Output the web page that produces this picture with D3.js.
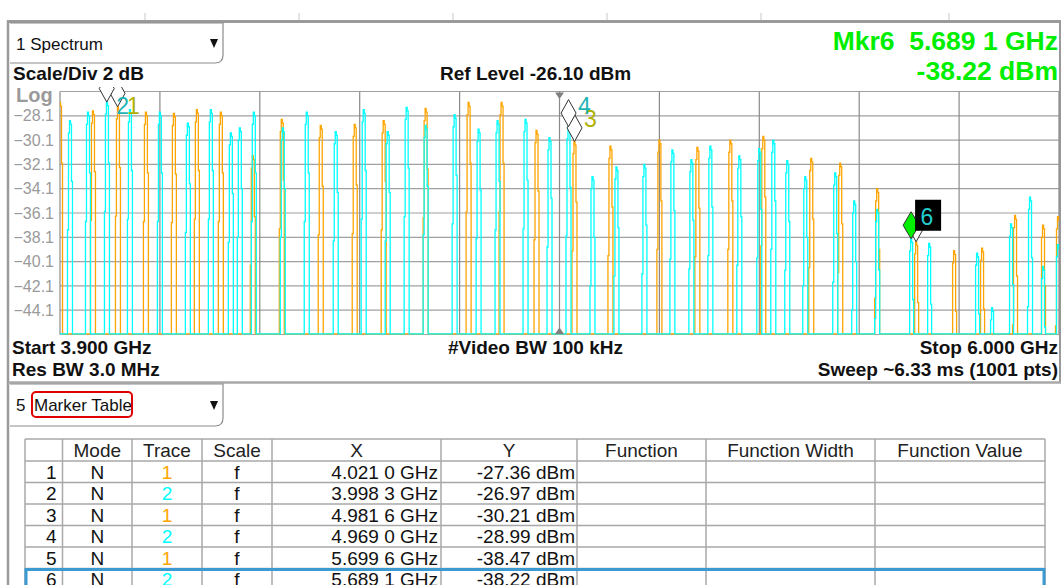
<!DOCTYPE html>
<html lang="en">
<head>
<meta charset="UTF-8">
<title>Spectrum + Marker Table</title>
<script src="https://d3js.org/d3.v7.min.js"></script>
<style>
  body { margin: 0; background: #fff; }
  svg text { font-family: "Liberation Sans", Arial, sans-serif; white-space: pre; }
</style>
</head>
<body>
<svg width="1061" height="585"></svg>
<script>
// sweep settings
const startGHz = 3.9, stopGHz = 6.0, centerGHz = 4.95;
const refLevel = -26.10, scaleDiv = 2, nPoints = 1001;
const floorDb = -46.05;

const yTickLabels = [-28.1, -30.1, -32.1, -34.1, -36.1, -38.1, -40.1, -42.1, -44.1];

// trace 1 (orange): burst peak frequency (GHz) and peak level (dBm)
const trace1Freq = [3.901, 3.969, 4.021, 4.080, 4.140, 4.188, 4.238, 4.306, 4.367, 4.449,
                    4.520, 4.580, 4.669, 4.758, 4.829, 4.901, 4.9816, 5.058, 5.159, 5.239,
                    5.310, 5.378, 5.480, 5.540, 5.618, 5.6996, 5.779, 5.838, 5.907, 5.967, 5.998];
const trace1Peak = [-27.0, -27.7, -27.36, -27.8, -27.9, -27.6, -27.8, -31.4, -28.4, -28.9,
                    -28.8, -28.5, -27.5, -27.0, -27.0, -29.3, -30.21, -30.6, -30.1, -30.7,
                    -30.1, -29.8, -31.6, -32.0, -34.1, -38.47, -39.2, -39.0, -36.3, -37.1, -36.4];

// trace 2 (cyan)
const trace2Freq = [3.920, 3.959, 3.9983, 4.048, 4.110, 4.169, 4.217, 4.259, 4.278, 4.308,
                    4.369, 4.419, 4.479, 4.539, 4.589, 4.629, 4.669, 4.730, 4.780, 4.819,
                    4.879, 4.930, 4.9690, 5.019, 5.069, 5.129, 5.188, 5.227, 5.267, 5.327,
                    5.369, 5.400, 5.429, 5.466, 5.529, 5.570, 5.618, 5.6891, 5.728, 5.828,
                    5.859, 5.899, 5.939, 5.967, 5.998];
const trace2Peak = [-28.5, -27.8, -26.97, -27.6, -27.8, -28.7, -27.6, -29.5, -29.1, -27.8,
                    -29.1, -27.8, -29.4, -27.6, -29.4, -27.4, -28.9, -28.0, -29.2, -28.5,
                    -28.4, -29.9, -28.99, -33.1, -32.3, -32.1, -30.9, -31.7, -30.6, -31.4,
                    -30.8, -30.1, -31.8, -33.1, -32.8, -35.1, -35.8, -38.22, -38.6, -39.4,
                    -43.9, -37.0, -34.8, -40.5, -38.7];

// step shape of one burst around its peak sample (dB below the peak)
const pulseProfile = [9, 1, 0, 0.3, 5];

// marker table
const markerNum = [1, 2, 3, 4, 5, 6];
const markerMode = ['N', 'N', 'N', 'N', 'N', 'N'];
const markerTrace = [1, 2, 1, 2, 1, 2];
const markerScale = ['f', 'f', 'f', 'f', 'f', 'f'];
const markerFreq = [4.0210, 3.9983, 4.9816, 4.9690, 5.6996, 5.6891];
const markerLevel = [-27.36, -26.97, -30.21, -28.99, -38.47, -38.22];
const activeMarker = 6;

const tableHeaders = ['', 'Mode', 'Trace', 'Scale', 'X', 'Y', 'Function', 'Function Width', 'Function Value'];

const traceColor = { 1: '#ffa500', 2: '#00ffff' };
const markerLabelColor = { 1: '#b0b000', 2: '#1eb4b4' };

const fmtGHz = f => { const s = f.toFixed(4); return s.slice(0, -1) + ' ' + s.slice(-1) + ' GHz'; };
const fmtDbm = v => v.toFixed(2) + ' dBm';

const svg = d3.select('svg');

// ---------- frame ----------
svg.append('line').attr('x1', 7).attr('x2', 1061).attr('y1', 21.5).attr('y2', 21.5)
  .attr('stroke', '#9a9a9a').attr('stroke-width', 3);
[145, 299, 453, 607, 761, 949].forEach(px => {
  svg.append('line').attr('x1', px).attr('x2', px).attr('y1', 13).attr('y2', 20)
    .attr('stroke', '#c8c8c8');
});
svg.append('line').attr('x1', 8).attr('x2', 8).attr('y1', 20).attr('y2', 585)
  .attr('stroke', '#9a9a9a').attr('stroke-width', 2.5);
svg.append('line').attr('x1', 1060).attr('x2', 1060).attr('y1', 21).attr('y2', 383)
  .attr('stroke', '#9a9a9a').attr('stroke-width', 2);
svg.append('line').attr('x1', 8).attr('x2', 1061).attr('y1', 382.5).attr('y2', 382.5)
  .attr('stroke', '#a8a8a8').attr('stroke-width', 2.5);

function dropdown(top, bottom) {
  svg.append('path')
    .attr('d', `M10,${top} H223 V${bottom - 8} Q223,${bottom} 215,${bottom} H10`)
    .attr('fill', 'none').attr('stroke', '#8c8c8c').attr('stroke-width', 1.2);
  const ty = (top + bottom) / 2 - 4;
  svg.append('path').attr('d', `M210,${ty} H218 L214,${ty + 9} Z`).attr('fill', '#111');
}
dropdown(23, 63);
dropdown(384, 426);

svg.append('text').attr('x', 16).attr('y', 50).attr('font-size', 17).attr('fill', '#111').text('1 Spectrum');

// active marker readout
const ai = markerNum.indexOf(activeMarker);
svg.append('text').attr('x', 1058).attr('y', 50).attr('text-anchor', 'end')
  .attr('font-size', 26.5).attr('font-weight', 'bold').attr('fill', '#00ee00')
  .text(`Mkr${activeMarker}  ${fmtGHz(markerFreq[ai])}`);
svg.append('text').attr('x', 1058).attr('y', 80).attr('text-anchor', 'end')
  .attr('font-size', 26.5).attr('font-weight', 'bold').attr('fill', '#00ee00')
  .text(fmtDbm(markerLevel[ai]));

const bold = (x, y, txt, anchor) => svg.append('text').attr('x', x).attr('y', y)
  .attr('text-anchor', anchor || 'start').attr('font-size', 19).attr('font-weight', 'bold')
  .attr('fill', '#111').text(txt);

bold(13, 80, `Scale/Div ${scaleDiv} dB`);
bold(440, 80, `Ref Level ${refLevel.toFixed(2)} dBm`);
bold(12, 354, `Start ${startGHz.toFixed(3)} GHz`);
bold(448, 354, '#Video BW 100 kHz');
bold(1058, 354, `Stop ${stopGHz.toFixed(3)} GHz`, 'end');
bold(12, 376, 'Res BW 3.0 MHz');
bold(1058, 376, `Sweep ~6.33 ms (${nPoints} pts)`, 'end');

svg.append('text').attr('x', 16).attr('y', 102).attr('font-size', 20).attr('font-weight', 'bold')
  .attr('fill', '#9a9a9a').text('Log');

// ---------- spectrum plot ----------
const x = d3.scaleLinear().domain([startGHz, stopGHz]).range([60, 1059]);
const y = d3.scaleLinear().domain([refLevel - 10 * scaleDiv, refLevel]).range([334.5, 91.5]);

const gridDb = d3.range(0, 11).map(i => refLevel - i * scaleDiv);
const gridGHz = d3.range(0, 11).map(i => startGHz + i * (stopGHz - startGHz) / 10);

svg.append('g').selectAll('line').data(gridDb).join('line')
  .attr('x1', x(startGHz)).attr('x2', x(stopGHz))
  .attr('y1', d => y(d)).attr('y2', d => y(d))
  .attr('stroke', '#a0a0a0').attr('stroke-width', 1.2);
svg.append('g').selectAll('line').data(gridGHz).join('line')
  .attr('x1', d => x(d)).attr('x2', d => x(d))
  .attr('y1', y.range()[1]).attr('y2', y.range()[0])
  .attr('stroke', '#8a8a8a').attr('stroke-width', 1.2);

const yAxis = svg.append('g').attr('transform', 'translate(54,0)')
  .call(d3.axisLeft(y).tickValues(yTickLabels).tickSize(0).tickPadding(0).tickFormat(d3.format('.1f')));
yAxis.select('.domain').remove();
yAxis.selectAll('text').attr('font-size', 16).attr('fill', '#9a9a9a')
  .attr('font-family', '"Liberation Sans", Arial, sans-serif');

svg.append('clipPath').attr('id', 'plotClip').append('rect')
  .attr('x', 59).attr('y', 91).attr('width', 1001).attr('height', 244.5);

function buildTrace(freqs, peaks) {
  const vals = new Array(nPoints).fill(floorDb);
  freqs.forEach((f, k) => {
    const c = Math.round((f - startGHz) / (stopGHz - startGHz) * (nPoints - 1));
    pulseProfile.forEach((drop, j) => {
      const i = c + j - 2;
      if (i >= 0 && i < nPoints) vals[i] = Math.max(vals[i], peaks[k] - drop);
    });
  });
  return vals.map((v, i) => [startGHz + i * (stopGHz - startGHz) / (nPoints - 1), Math.max(v, floorDb)]);
}

const line = d3.line().x(d => x(d[0])).y(d => y(d[1])).curve(d3.curveStep);
const plot = svg.append('g').attr('clip-path', 'url(#plotClip)');
plot.append('path').datum(buildTrace(trace1Freq, trace1Peak))
  .attr('d', line).attr('fill', 'none').attr('stroke', traceColor[1]).attr('stroke-width', 1.3);
plot.append('path').datum(buildTrace(trace2Freq, trace2Peak))
  .attr('d', line).attr('fill', 'none').attr('stroke', traceColor[2]).attr('stroke-width', 1.3);

// center frequency indicators
const cx = x(centerGHz);
svg.append('path').attr('d', `M${cx - 4.5},92.5 H${cx + 4.5} L${cx},99 Z`).attr('fill', '#808080');
svg.append('path').attr('d', `M${cx - 4.5},334 H${cx + 4.5} L${cx},327.5 Z`).attr('fill', '#808080');

// ---------- markers ----------
svg.append('clipPath').attr('id', 'mkrClip').append('rect')
  .attr('x', 0).attr('y', 87).attr('width', 1061).attr('height', 260);
const mk = svg.append('g').attr('clip-path', 'url(#mkrClip)');
const order = markerNum.map((n, i) => i).filter(i => markerNum[i] !== activeMarker).concat([ai]);
order.forEach(i => {
  const px = x(markerFreq[i]), py = y(markerLevel[i]);
  const active = markerNum[i] === activeMarker;
  const hw = active ? 8 : 7.5, h = 27;
  mk.append('path')
    .attr('d', `M${px},${py} L${px + hw},${py - h / 2} L${px},${py - h} L${px - hw},${py - h / 2} Z`)
    .attr('fill', active ? '#00ee00' : '#fff').attr('stroke', '#333').attr('stroke-width', 1);
  const ly = Math.max(py - 14, 114);
  // marker 5 label sits under the active readout box in the original, so it is not drawn
  if (active) {
    mk.append('rect').attr('x', px + 4).attr('y', ly - 25).attr('width', 26).attr('height', 31).attr('fill', '#000');
  } else if (Math.abs(markerFreq[i] - markerFreq[ai]) < 0.02) {
    return;
  }
  mk.append('text').attr('x', px + 9.5).attr('y', ly).attr('font-size', 23)
    .attr('fill', active ? '#22cccc' : markerLabelColor[markerTrace[i]])
    .text(markerNum[i]);
});

// ---------- marker table ----------
svg.append('text').attr('x', 16).attr('y', 411).attr('font-size', 17).attr('fill', '#111').text('5');
svg.append('text').attr('x', 34).attr('y', 411).attr('font-size', 17).attr('fill', '#111').text('Marker Table');
svg.append('rect').attr('x', 32).attr('y', 392).attr('width', 100).attr('height', 25).attr('rx', 4)
  .attr('fill', 'none').attr('stroke', '#e00000').attr('stroke-width', 2);

const colEdges = [25, 62.5, 132, 202, 272, 441, 577, 706, 875, 1045];
const headTop = 439, headH = 22, rowH = 21.5;
const tbl = svg.append('g');
const rowLines = d3.range(0, markerNum.length + 1).map(i => headTop + headH + i * rowH);
tbl.selectAll('line.h').data([headTop].concat(rowLines)).join('line')
  .attr('x1', colEdges[0]).attr('x2', colEdges[colEdges.length - 1])
  .attr('y1', d => d).attr('y2', d => d).attr('stroke', '#a8a8a8').attr('stroke-width', 1.5);
tbl.selectAll('line.v').data(colEdges).join('line')
  .attr('x1', d => d).attr('x2', d => d).attr('y1', headTop).attr('y2', 600)
  .attr('stroke', '#a8a8a8').attr('stroke-width', 1.5);

tableHeaders.forEach((hd, c) => {
  tbl.append('text').attr('x', (colEdges[c] + colEdges[c + 1]) / 2).attr('y', headTop + 17.5)
    .attr('text-anchor', 'middle').attr('font-size', 19).attr('fill', '#222').text(hd);
});

markerNum.forEach((n, i) => {
  const by = headTop + headH + i * rowH + 17.5;
  const cell = (xx, txt, anchor, color) => tbl.append('text').attr('x', xx).attr('y', by)
    .attr('text-anchor', anchor).attr('font-size', 19).attr('fill', color || '#111').text(txt);
  cell(colEdges[1] - 6, n, 'end');
  cell((colEdges[1] + colEdges[2]) / 2, markerMode[i], 'middle');
  cell((colEdges[2] + colEdges[3]) / 2, markerTrace[i], 'middle', traceColor[markerTrace[i]]);
  cell((colEdges[3] + colEdges[4]) / 2, markerScale[i], 'middle');
  cell(colEdges[5] - 3, fmtGHz(markerFreq[i]), 'end');
  cell(colEdges[6] - 2, fmtDbm(markerLevel[i]), 'end');
});

// highlight of the active marker row
tbl.append('rect')
  .attr('x', colEdges[0] + 1).attr('y', headTop + headH + ai * rowH + 1)
  .attr('width', colEdges[colEdges.length - 1] - colEdges[0] - 2).attr('height', rowH)
  .attr('fill', 'none').attr('stroke', '#3b9ad2').attr('stroke-width', 3);
</script>
</body>
</html>
